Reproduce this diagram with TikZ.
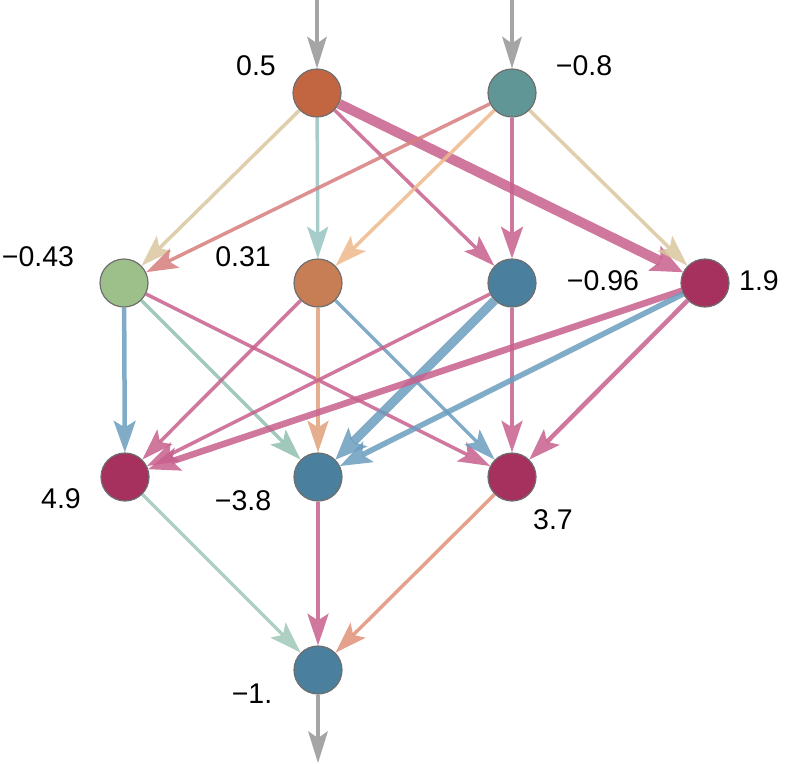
\documentclass[tikz,border=0pt]{standalone}
\usepackage{fontspec}
\setmainfont{Liberation Sans}
\usetikzlibrary{arrows.meta}
\pgfdeclarelayer{background}
\pgfsetlayers{background,main}
\definecolor{nline}{RGB}{110,110,110}
\definecolor{cA}{RGB}{193,102,64}
\definecolor{cB}{RGB}{96,150,150}
\definecolor{cGreen}{RGB}{157,191,138}
\definecolor{cOrange}{RGB}{200,126,84}
\definecolor{cBlue}{RGB}{74,127,158}
\definecolor{cMag}{RGB}{166,48,94}
\definecolor{eTan}{RGB}{218,199,158}
\definecolor{eTeal}{RGB}{150,196,192}
\definecolor{ePink}{RGB}{200,95,140}
\definecolor{eSalmon}{RGB}{214,125,125}
\definecolor{eLOrange}{RGB}{238,185,140}
\definecolor{eBlue}{RGB}{107,157,190}
\definecolor{eTeal2}{RGB}{143,192,176}
\definecolor{eOrange}{RGB}{225,160,122}
\definecolor{eOutTeal}{RGB}{160,200,185}
\definecolor{eOutSalmon}{RGB}{224,145,120}
\definecolor{eGrey}{RGB}{165,165,165}
\begin{document}
\begin{tikzpicture}[x=1pt,y=-1pt,
  neuron/.style={circle, draw=nline, line width=1.2pt, minimum size=48pt, inner sep=0pt},
  lbl/.style={inner sep=0pt, font=\fontsize{28.5}{28.5}\selectfont},
  conn/.style={line width=#1, opacity=0.85,
    -{Stealth[length=32pt, width=18pt 1, inset=7pt, line width=0pt]}},
  conn/.default=3.5pt,
  io/.style={line width=3.5pt, draw=eGrey,
    -{Stealth[length=32pt, width=20pt, inset=7pt, line width=0pt]}}]
\useasboundingbox (0,0) rectangle (791,763);
% nodes
\node[neuron, fill=cA] (A) at (317,93) {};
\node[neuron, fill=cB] (B) at (512,93) {};
\node[neuron, fill=cGreen] (H1) at (124,283) {};
\node[neuron, fill=cOrange] (H2) at (318,283) {};
\node[neuron, fill=cBlue] (H3) at (512,283) {};
\node[neuron, fill=cMag] (H4) at (705,283) {};
\node[neuron, fill=cMag] (G1) at (125,477) {};
\node[neuron, fill=cBlue] (G2) at (318,477) {};
\node[neuron, fill=cMag] (G3) at (512,477) {};
\node[neuron, fill=cBlue] (O) at (318,670) {};
% labels
\node[lbl] (lA) at (256,66) {0.5};
\node[lbl] (lB) at (584,66) {−0.8};
\node[lbl] (lH1) at (38,257) {−0.43};
\node[lbl] (lH2) at (243,257) {0.31};
\node[lbl] (lH3) at (603,281) {−0.96};
\node[lbl] (lH4) at (759,281) {1.9};
\node[lbl] (lG1) at (61,499) {4.9};
\node[lbl] (lG2) at (243,501) {−3.8};
\node[lbl] (lG3) at (553,520) {3.7};
\node[lbl] (lO) at (252,694) {−1.};
% io coordinates
\coordinate (inA) at (317,0);
\coordinate (inB) at (512,0);
\coordinate (outO) at (318,763);
\begin{pgfonlayer}{background}
\draw[io] (inA) -- (A);
\draw[io] (inB) -- (B);
\draw[io] (O) -- (outO);
% layer 0 -> 1
\draw[conn, draw=eTan] (A) -- (H1);
\draw[conn, draw=eTeal] (A) -- (H2);
\draw[conn, draw=ePink] (A) -- (H3);
\draw[conn=10pt, draw=ePink] (A) -- (H4);
\draw[conn, draw=eSalmon] (B) -- (H1);
\draw[conn, draw=eLOrange] (B) -- (H2);
\draw[conn=4.5pt, draw=ePink] (B) -- (H3);
\draw[conn, draw=eTan] (B) -- (H4);
% layer 1 -> 2
\draw[conn=4.5pt, draw=eBlue] (H1) -- (G1);
\draw[conn, draw=eTeal2] (H1) -- (G2);
\draw[conn, draw=ePink] (H1) -- (G3);
\draw[conn, draw=ePink] (H2) -- (G1);
\draw[conn, draw=eOrange] (H2) -- (G2);
\draw[conn, draw=eBlue] (H2) -- (G3);
\draw[conn, draw=ePink] (H3) -- (G1);
\draw[conn=9pt, draw=eBlue] (H3) -- (G2);
\draw[conn, draw=ePink] (H3) -- (G3);
\draw[conn=6.5pt, draw=ePink] (H4) -- (G1);
\draw[conn=5.5pt, draw=eBlue] (H4) -- (G2);
\draw[conn=4.5pt, draw=ePink] (H4) -- (G3);
% layer 2 -> out
\draw[conn, draw=eOutTeal] (G1) -- (O);
\draw[conn, draw=ePink] (G2) -- (O);
\draw[conn, draw=eOutSalmon] (G3) -- (O);
\end{pgfonlayer}
\end{tikzpicture}
\end{document}
